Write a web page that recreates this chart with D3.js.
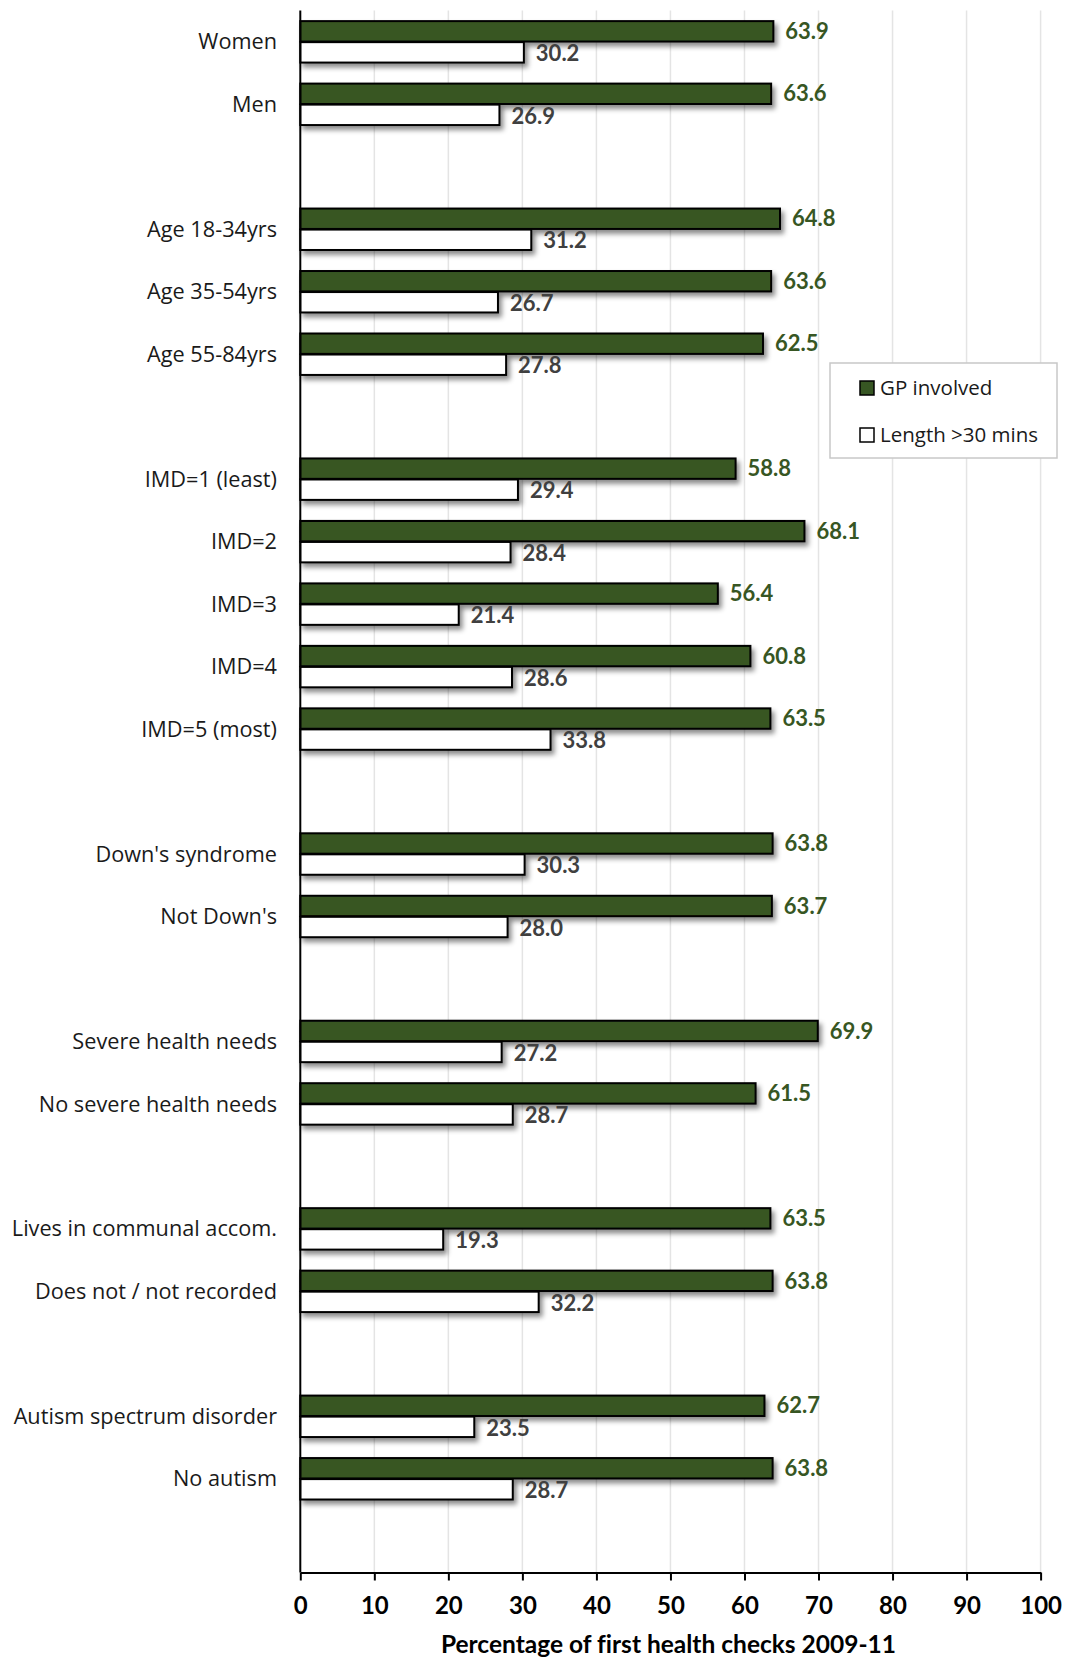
<!DOCTYPE html>
<html>
<head>
<meta charset="utf-8">
<script src="https://cdn.jsdelivr.net/npm/d3@7"></script>
<style>
  body { margin: 0; background: #fff; }
  svg { display: block; }
  text { font-variant-ligatures: none; }
</style>
</head>
<body>
<svg width="1067" height="1658"></svg>
<script>
//-- data --//
// null rows are the empty spacer rows between blocks
const categories = ["Women", "Men", null,
  "Age 18-34yrs", "Age 35-54yrs", "Age 55-84yrs", null,
  "IMD=1 (least)", "IMD=2", "IMD=3", "IMD=4", "IMD=5 (most)", null,
  "Down's syndrome", "Not Down's", null,
  "Severe health needs", "No severe health needs", null,
  "Lives in communal accom.", "Does not / not recorded", null,
  "Autism spectrum disorder", "No autism", null];
const gpInvolved = [63.9, 63.6, null,
  64.8, 63.6, 62.5, null,
  58.8, 68.1, 56.4, 60.8, 63.5, null,
  63.8, 63.7, null,
  69.9, 61.5, null,
  63.5, 63.8, null,
  62.7, 63.8, null];
const lengthOver30 = [30.2, 26.9, null,
  31.2, 26.7, 27.8, null,
  29.4, 28.4, 21.4, 28.6, 33.8, null,
  30.3, 28.0, null,
  27.2, 28.7, null,
  19.3, 32.2, null,
  23.5, 28.7, null];
const seriesNames = ["GP involved", "Length >30 mins"];
const xTicks = [0, 10, 20, 30, 40, 50, 60, 70, 80, 90, 100];
const xTitle = "Percentage of first health checks 2009-11";

const green = "#375623";
const margin = {top: 10.6, right: 26, bottom: 85.5, left: 300.3};
const width = 1067, height = 1658;

const rows = categories.map((name, i) => ({i, name, gp: gpInvolved[i], len: lengthOver30[i]}));

const x = d3.scaleLinear()
    .domain([0, 100])
    .range([margin.left, 1040.6]);

const y = d3.scaleBand()
    .domain(d3.range(categories.length))
    .range([margin.top, height - margin.bottom]);

// two bars inside each row
const sub = d3.scaleBand()
    .domain(["gp", "len"])
    .range([0, y.bandwidth()])
    .paddingInner(0.03)
    .paddingOuter(0.5);

const svg = d3.select("svg");

const defs = svg.append("defs");
defs.append("filter")
    .attr("id", "shadow")
    .attr("x", "-5%").attr("y", "-30%")
    .attr("width", "115%").attr("height", "190%")
  .append("feDropShadow")
    .attr("dx", 3).attr("dy", 4)
    .attr("stdDeviation", 2.5)
    .attr("flood-color", "#000")
    .attr("flood-opacity", 0.45);

//-- grid --//
svg.append("g")
    .selectAll("line")
    .data(xTicks.slice(1))
    .join("line")
    .attr("x1", d => x(d)).attr("x2", d => x(d))
    .attr("y1", margin.top).attr("y2", height - margin.bottom)
    .attr("stroke", "#e4e4e4")
    .attr("stroke-width", 1.5);

//-- bars --//
const rowG = svg.append("g")
    .selectAll("g")
    .data(rows.filter(d => d.name))
    .join("g")
    .attr("transform", d => `translate(0,${y(d.i)})`);

rowG.append("rect")
    .attr("x", x(0))
    .attr("y", sub("gp"))
    .attr("width", d => x(d.gp) - x(0))
    .attr("height", sub.bandwidth())
    .attr("fill", green)
    .attr("stroke", "#000")
    .attr("stroke-width", 2)
    .attr("filter", "url(#shadow)");

rowG.append("rect")
    .attr("x", x(0))
    .attr("y", sub("len"))
    .attr("width", d => x(d.len) - x(0))
    .attr("height", sub.bandwidth())
    .attr("fill", "#fff")
    .attr("stroke", "#000")
    .attr("stroke-width", 2)
    .attr("filter", "url(#shadow)");

rowG.append("text")
    .attr("x", d => x(d.gp) + 12)
    .attr("y", sub("gp") + sub.bandwidth() / 2)
    .attr("dy", "0.35em")
    .attr("fill", green)
    .style("font", "bold 22px Lato, 'Open Sans', sans-serif")
    .text(d => d.gp.toFixed(1));

rowG.append("text")
    .attr("x", d => x(d.len) + 12)
    .attr("y", sub("len") + sub.bandwidth() / 2 + 1)
    .attr("dy", "0.35em")
    .attr("fill", "#404040")
    .style("font", "bold 22px Lato, 'Open Sans', sans-serif")
    .text(d => d.len.toFixed(1));

//-- category labels --//
svg.append("g")
    .selectAll("text")
    .data(rows.filter(d => d.name))
    .join("text")
    .attr("x", 277)
    .attr("y", d => y(d.i) + y.bandwidth() / 2)
    .attr("dy", "0.35em")
    .attr("text-anchor", "end")
    .attr("fill", "#1a1a1a")
    .style("font", "21.7px 'Open Sans', 'Noto Sans', sans-serif")
    .text(d => d.name);

//-- axes --//
svg.append("g")
    .attr("transform", `translate(0,${height - margin.bottom})`)
    .call(d3.axisBottom(x).tickValues(xTicks).tickSize(8).tickPadding(16).tickSizeOuter(0))
    .call(g => g.select(".domain").attr("stroke", "#000").attr("stroke-width", 2))
    .call(g => g.selectAll(".tick line").attr("stroke", "#000").attr("stroke-width", 2))
    .call(g => g.selectAll(".tick text")
        .attr("fill", "#000")
        .style("font", "bold 24px Lato, 'Open Sans', sans-serif"));

svg.append("line")
    .attr("x1", x(0)).attr("x2", x(0))
    .attr("y1", margin.top).attr("y2", height - margin.bottom)
    .attr("stroke", "#000")
    .attr("stroke-width", 2);

svg.append("text")
    .attr("x", (x(0) + x(100)) / 2 - 2)
    .attr("y", 1653)
    .attr("text-anchor", "middle")
    .attr("fill", "#000")
    .style("font", "bold 24.5px Lato, 'Open Sans', sans-serif")
    .style("font-variant-ligatures", "none")
    .text(xTitle);

//-- legend --//
const legend = svg.append("g").attr("transform", "translate(830,363)");
legend.append("rect")
    .attr("width", 227).attr("height", 95)
    .attr("fill", "#fff")
    .attr("stroke", "#c8c8c8")
    .attr("stroke-width", 1.5);

const legendItems = legend.selectAll("g")
    .data(seriesNames)
    .join("g")
    .attr("transform", (d, i) => `translate(30,${18 + i * 47})`);

legendItems.append("rect")
    .attr("width", 14).attr("height", 14)
    .attr("fill", (d, i) => i === 0 ? green : "#fff")
    .attr("stroke", "#000")
    .attr("stroke-width", 1.5);

legendItems.append("text")
    .attr("x", 20)
    .attr("y", 7)
    .attr("dy", "0.35em")
    .attr("fill", "#1a1a1a")
    .style("font", "20.5px 'Open Sans', 'Noto Sans', sans-serif")
    .text(d => d);
</script>
</body>
</html>
